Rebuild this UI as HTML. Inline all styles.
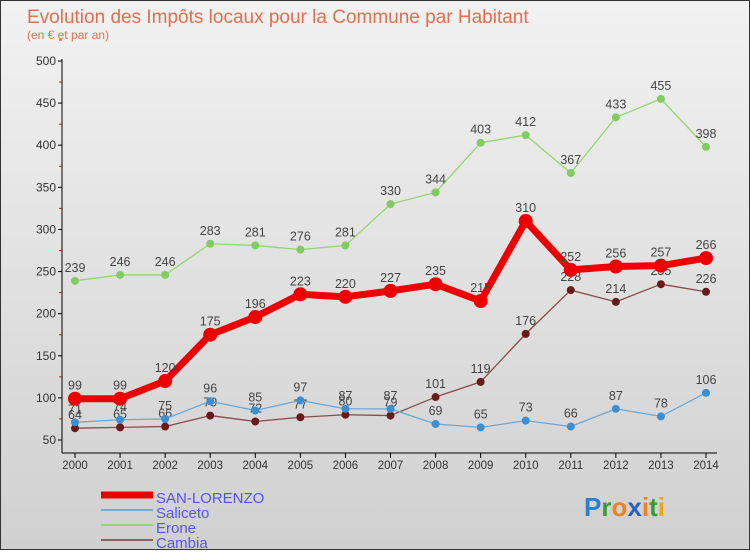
<!DOCTYPE html>
<html><head><meta charset="utf-8"><style>
body{margin:0;width:750px;height:550px;overflow:hidden;font-family:"Liberation Sans",sans-serif}
#wrap{position:relative;width:748px;height:548px;border:1px solid #333;background:linear-gradient(#f2f2f2,#d0d0d0)}
</style></head><body>
<div id="wrap">
<svg id="chart" width="748" height="548"></svg>
</div>
<script>
const years=[2000,2001,2002,2003,2004,2005,2006,2007,2008,2009,2010,2011,2012,2013,2014];
const sanLorenzo=[99,99,120,175,196,223,220,227,235,215,310,252,256,257,266];
const saliceto=[71,74,75,96,85,97,87,87,69,65,73,66,87,78,106];
const erone=[239,246,246,283,281,276,281,330,344,403,412,367,433,455,398];
const cambia=[64,65,66,79,72,77,80,79,101,119,176,228,214,235,226];
const yTicks=[50,100,150,200,250,300,350,400,450,500];
const NS="http://www.w3.org/2000/svg";
const svg=document.getElementById('chart');
function X(i){return 74+i*(705-74)/(years.length-1);}
function Y(v){return 439-(v-50)*(379/450);}
function mk(t,a,p){const e=document.createElementNS(NS,t);for(const k in a)e.setAttribute(k,a[k]);(p||svg).appendChild(e);return e;}
function txt(s,a){const e=mk('text',a);e.textContent=s;return e;}
const t1=txt('Evolution des Impôts locaux pour la Commune par Habitant',{x:26,y:22,fill:'#e07050','font-size':19});

const t2=txt('(en € et par an)',{x:26,y:38,fill:'#e07050','font-size':12});

const ax=mk('g',{});
mk('line',{x1:61,y1:58,x2:61,y2:452,stroke:'#000'},ax);
mk('line',{x1:61,y1:452,x2:716,y2:452,stroke:'#000'},ax);
yTicks.forEach(v=>{mk('line',{x1:57,y1:Y(v),x2:61,y2:Y(v),stroke:'#000'},ax);
 mk('line',{x1:58,y1:Y(v+25),x2:61,y2:Y(v+25),stroke:'#e00'},ax);
 const l=txt(v,{x:55,y:Y(v)+4,'text-anchor':'end','font-size':12,fill:'#333'});
 });
years.forEach((yr,i)=>{mk('line',{x1:X(i),y1:452,x2:X(i),y2:457,stroke:'#000'},ax);
 const l=txt(yr,{x:X(i),y:468,'text-anchor':'middle','font-size':11.5,fill:'#333'});
 });
function series(data,color,w,r,dot,name){
 const g=mk('g',{});
 mk('polyline',{points:data.map((v,i)=>X(i)+','+Y(v)).join(' '),fill:'none',stroke:color,'stroke-width':w,'stroke-linejoin':'round'},g);
 data.forEach((v,i)=>{const c=mk('circle',{cx:X(i),cy:Y(v),r:r,fill:dot},g);
  
  const l=txt(v,{x:X(i),y:Y(v)-9,'text-anchor':'middle','font-size':12.5,fill:'#444'});
  });
}
series(cambia,'#8a4a4a',1.3,4,'#6a1a1a','cambia-series');
series(saliceto,'#6aa8d8',1.3,4,'#3a90d0','saliceto-series');
series(erone,'#90d870',1.3,4,'#80cc60','erone-series');
series(sanLorenzo,'#ee0000',7,7,'#ee0000','san-lorenzo-series');
const legend=[['SAN-LORENZO','#ee0000',7],['Saliceto','#7aaad0',2],['Erone','#90d870',2],['Cambia','#8a6060',2]];
legend.forEach((d,i)=>{const g=mk('g',{});
 const y=502+i*15;mk('line',{x1:100,y1:y-8,x2:152,y2:y-8,stroke:d[1],'stroke-width':d[2]},g);
 txt(d[0],{x:155,y:y,'font-size':15,fill:'#5555ee'}).parentNode===svg;g.appendChild(svg.lastChild);});
const logo=mk('text',{x:583,y:515,'font-size':26,'font-weight':'bold'});

[['P','#2a80d0'],['r','#30a030'],['o','#f08020'],['x','#2a60c0'],['i','#f08020'],['t','#30a030'],['i','#f0a020']].forEach(c=>{const s=mk('tspan',{fill:c[1]},logo);s.textContent=c[0];});
</script>
</body></html>
